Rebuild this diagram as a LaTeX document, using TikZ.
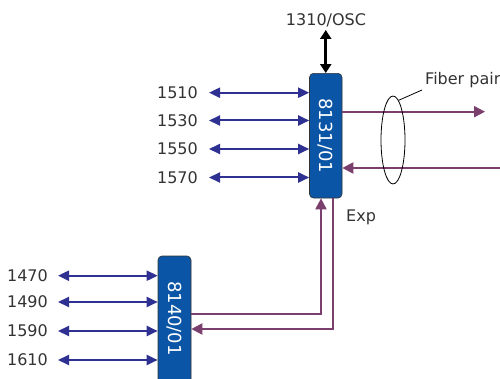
\documentclass[tikz,border=0pt]{standalone}
\usepackage{fontspec}
\setmainfont{DejaVu Sans}
\usetikzlibrary{arrows.meta,shapes.geometric}
\definecolor{boxblue}{HTML}{0B55A6}
\definecolor{arrblue}{HTML}{2E3192}
\definecolor{fibpurp}{HTML}{7B3F6E}
\definecolor{txtgray}{HTML}{333333}
\tikzset{
  lbl/.style={font=\fontsize{16}{16}\selectfont, text=txtgray, inner sep=0pt},
  unit/.style={draw=black!80, line width=0.6pt, fill=boxblue, rounded corners=4pt, inner sep=0pt},
  utext/.style={white, rotate=-90, font=\fontsize{18}{18}\selectfont, inner sep=0pt},
  bl/.style={draw=arrblue, line width=2pt, {Triangle[length=11pt,width=10pt]}-{Triangle[length=11pt,width=10pt]}},
  pl/.style={draw=fibpurp, line width=2pt},
  ptip/.style={-{Triangle[length=11pt,width=11pt]}},
}
\begin{document}
\begin{tikzpicture}[x=1pt,y=-1pt]
\clip (0,0) rectangle (500,379);
\fill[white] (0,0) rectangle (500,379);
% units
\node[unit, minimum width=32.5pt, minimum height=124.7pt] (b1) at (325.75,135.7) {};
\node[utext] (t1) at (b1.center) {8131/01};
\node[unit, minimum width=33pt, minimum height=140pt] (b2) at (174.5,326) {};
\node[utext] (t2) at (174.5,318.5) {8140/01};
% top label and black arrow
\node[lbl] (osc) at (326,20) {1310/OSC};
\draw[black, line width=3pt, {Triangle[length=9pt,width=11pt]}-{Triangle[length=9pt,width=11pt]}] (b1.north) -- (b1.north |- 0,30);
% left labels 8131
\foreach \t/\y in {1510/92.7,1530/120.5,1550/149,1570/177.5}{
  \node[lbl, anchor=east] (l\t) at (198,\y) {\t};
  \coordinate (s\t) at (209,\y);
  \draw[bl] (s\t) -- (s\t -| b1.west);
}
% left labels 8140
\foreach \t/\y in {1470/275.7,1490/302,1590/331,1610/360}{
  \node[lbl, anchor=east] (l\t) at (48,\y) {\t};
  \coordinate (s\t) at (58,\y);
  \draw[bl] (s\t) -- (s\t -| b2.west);
}
% fiber pair
\coordinate (outE) at (485,111.7);
\coordinate (inE) at (500,168);
\draw[pl,ptip] (b1.east |- outE) -- (outE);
\draw[pl,ptip] (inE) -- (b1.east |- inE);
\node[draw=black, line width=0.8pt, ellipse, minimum width=24pt, minimum height=88pt, inner sep=0pt] (fp) at (393,140) {};
\node[lbl, anchor=west] (fpl) at (425,80) {Fiber pair};
\coordinate (fpend) at (422,90);
\draw[black, line width=0.8pt] (fp.82) -- (fpend);
\node[lbl, anchor=west] (exp) at (346,217) {Exp};
% expansion links
\coordinate (v1) at (321,314);
\coordinate (v2) at (333,329);
\draw[pl,ptip] (b2.east |- v1) -| (v1 |- b1.south);
\draw[pl,ptip] (v2 |- b1.south) |- (b2.east |- v2);
\end{tikzpicture}
\end{document}
